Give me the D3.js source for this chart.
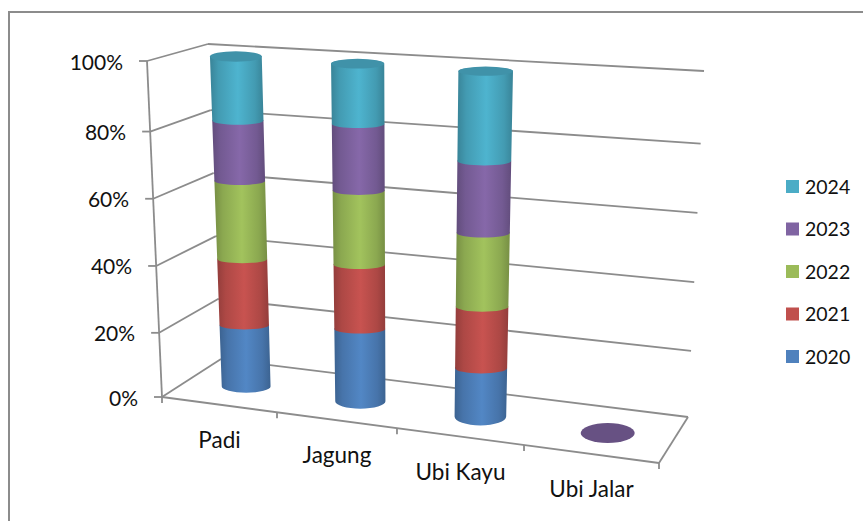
<!DOCTYPE html>
<html>
<head>
<meta charset="utf-8">
<script src="https://cdn.jsdelivr.net/npm/d3@7"></script>
<style>
body { margin: 0; background: #fff; }
text { font-family: Lato, "Open Sans", sans-serif; fill: #111; }
</style>
</head>
<body>
<div id="svg-container"></div>
<script>
const width = 863;
const height = 521;

// data (share of each year in %)
const categories = ['Padi', 'Jagung', 'Ubi Kayu', 'Ubi Jalar'];
const years = ['2020', '2021', '2022', '2023', '2024'];
const values2020 = [19.4, 22.3, 14.7, 0];
const values2021 = [20.2, 19.2, 18.1, 0];
const values2022 = [23.7, 21.9, 21.4, 0];
const values2023 = [18.2, 19.6, 20.8, 0];
const values2024 = [18.5, 17.0, 25.0, 0];
const yTicks = [0, 20, 40, 60, 80, 100];
const colors = ['#4f81bd', '#c0504d', '#9bbb59', '#8064a2', '#4bacc6'];

const gridColor = '#8c8c8c';

// corners of the 3d box as it appears on screen
const floor = {fl: [162, 397], fr: [659, 463], bl: [221, 359], br: [688, 417]};
const ceil = {fl: [147, 61], fr: [679, 94], bl: [208, 44], br: [704, 71]};

// perspective: category widths and grid heights are not quite even
const catScale = d3.scaleLinear().domain([0, 1, 2, 3, 4]).range([0, 0.2314, 0.4728, 0.7284, 1]);
const heightScale = d3.scaleLinear().domain(yTicks).range([0, 0.191, 0.39, 0.59, 0.79, 1]);

const lerp = (a, b, t) => [a[0] + (b[0] - a[0]) * t, a[1] + (b[1] - a[1]) * t];

// t = position along categories, pct = value axis, d = depth (0 front, 1 back)
const project = (t, pct, d) => {
    const f = catScale(t);
    const low = lerp(lerp(floor.fl, floor.fr, f), lerp(floor.bl, floor.br, f), d);
    const high = lerp(lerp(ceil.fl, ceil.fr, f), lerp(ceil.bl, ceil.br, f), d);
    return lerp(low, high, heightScale(pct));
};

const svg = d3.select('#svg-container')
    .append('svg')
    .attr('width', width)
    .attr('height', height);

const defs = svg.append('defs');

// cylinder shading
colors.forEach((c, i) => {
    const grad = defs.append('linearGradient').attr('id', 'shade' + i);
    const stops = [[0, d3.color(c).darker(0.75)], [0.16, d3.color(c).darker(0.3)], [0.52, d3.color(c).brighter(0.12)],
        [0.84, d3.color(c).darker(0.3)], [1, d3.color(c).darker(0.75)]];
    stops.forEach((s) => {
        grad.append('stop').attr('offset', s[0]).attr('stop-color', s[1]);
    });
});

// chart frame, only top and left are in the picture
svg.append('path')
    .attr('d', 'M9,' + height + 'V12H' + width)
    .attr('fill', 'none')
    .attr('stroke', gridColor)
    .attr('stroke-width', 2);

const line = (a, b) => 'M' + a[0] + ',' + a[1] + 'L' + b[0] + ',' + b[1];
const grid = svg.append('g')
    .attr('fill', 'none')
    .attr('stroke', gridColor)
    .attr('stroke-width', 1.8);

// side wall and back wall lines
yTicks.forEach((v) => {
    grid.append('path').attr('d', line(project(0, v, 0), project(0, v, 1)));
    grid.append('path').attr('d', line(project(0, v, 1), project(4, v, 1)));
    const p = project(0, v, 0);
    grid.append('path').attr('d', line([p[0] - 8, p[1]], p));
    svg.append('text')
        .attr('x', p[0] - 24)
        .attr('y', p[1] + 8.5)
        .attr('text-anchor', 'end')
        .attr('font-size', 21)
        .text(v + '%');
});

// value axis, front floor edge and right floor edge
grid.append('path').attr('d', line(project(0, 0, 0), project(0, 100, 0)));
grid.append('path').attr('d', line(project(0, 0, 0), project(4, 0, 0)));
grid.append('path').attr('d', line(project(4, 0, 0), project(4, 0, 1)));

d3.range(5).forEach((i) => {
    const p = project(i, 0, 0);
    grid.append('path').attr('d', line(p, [p[0], p[1] + 6]));
});

categories.forEach((name, i) => {
    const p = project(i + 0.5, 0, 0);
    svg.append('text')
        .attr('x', p[0])
        .attr('y', p[1] + 43)
        .attr('text-anchor', 'middle')
        .attr('font-size', 22.5)
        .text(name);
});

// stacked cylinders
const table = categories.map((name, i) => ({
    name: name,
    2020: values2020[i], 2021: values2021[i], 2022: values2022[i], 2023: values2023[i], 2024: values2024[i]
}));
const stacked = d3.stack().keys(years)(table);

const depth = 0.47;
const barPos = 0.505;
const radius = (i, pct) => 24.4 + i * 0.7 + pct * 0.015;
const ryBase = (i) => 6.3 + i * 1.25;
const ryInner = (i, pct) => 4.1 + 0.7 * i * (1 - pct / 100);
const ryTop = (i) => 5.2 - 0.3 * i;

const bars = svg.append('g');
categories.forEach((name, i) => {
    const total = d3.sum(stacked, (s) => s[i][1] - s[i][0]);
    const base = project(i + barPos, 0, depth);
    if (total === 0) {
        // empty category, only the flat disc is left
        bars.append('ellipse')
            .attr('cx', base[0])
            .attr('cy', base[1])
            .attr('rx', radius(i, 0) + 0.5)
            .attr('ry', ryBase(i))
            .attr('fill', d3.color(colors[3]).darker(0.6));
        return;
    }
    stacked.forEach((s, k) => {
        const [y0, y1] = s[i];
        const a = project(i + barPos, y0, depth);
        const b = project(i + barPos, y1, depth);
        const ra = radius(i, y0);
        const rb = radius(i, y1);
        const ry = y0 === 0 ? ryBase(i) : ryInner(i, y0);
        const d = 'M' + (a[0] - ra) + ',' + a[1]
            + 'A' + ra + ',' + ry + ' 0 0 0 ' + (a[0] + ra) + ',' + a[1]
            + 'L' + (b[0] + rb) + ',' + b[1]
            + 'A' + rb + ',' + ryInner(i, y1) + ' 0 0 0 ' + (b[0] - rb) + ',' + b[1] + 'Z';
        bars.append('path').attr('d', d).attr('fill', 'url(#shade' + k + ')');
    });
    const top = project(i + barPos, 100, depth);
    bars.append('ellipse')
        .attr('cx', top[0])
        .attr('cy', top[1])
        .attr('rx', radius(i, 100))
        .attr('ry', ryTop(i))
        .attr('fill', d3.color(colors[4]).darker(0.45));
});

// legend, newest year on top
const legendY = d3.scalePoint().domain(years.slice().reverse()).range([180, 350]);
years.forEach((year, i) => {
    svg.append('rect')
        .attr('x', 786)
        .attr('y', legendY(year))
        .attr('width', 13)
        .attr('height', 13)
        .attr('fill', colors[i]);
    svg.append('text')
        .attr('x', 805)
        .attr('y', legendY(year) + 13.5)
        .attr('font-size', 19.5)
        .text(year);
});
</script>
</body>
</html>
